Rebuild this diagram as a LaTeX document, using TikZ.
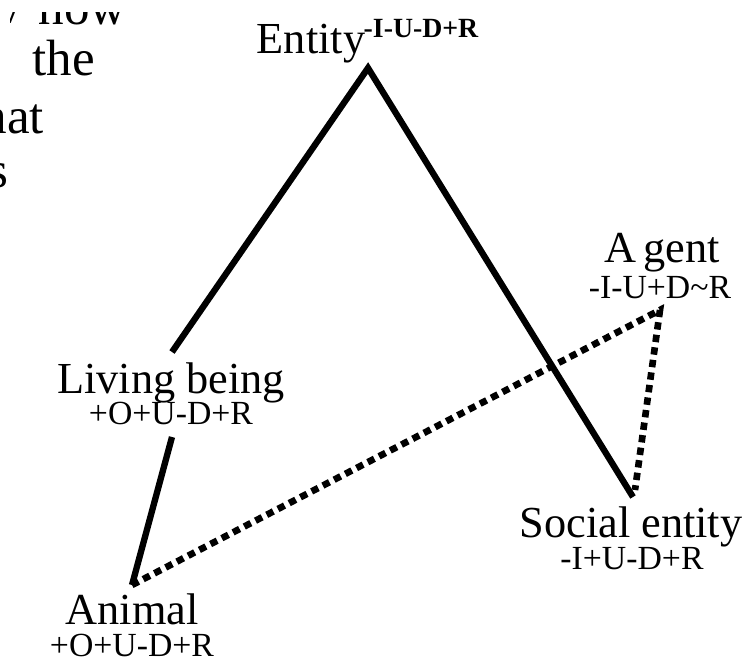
\documentclass[tikz,border=0pt]{standalone}
\usepackage{fontspec}
\setmainfont{Liberation Serif}
\usetikzlibrary{positioning}

\begin{document}
\begin{tikzpicture}[x=0.01cm, y=-0.01cm,
edge/.style={line width=1.8pt},
dots/.style={line width=1.9pt, dash pattern=on 2.1pt off 1.5pt},
mainlbl/.style={font=\fontsize{12.6}{14}\selectfont, inner sep=0pt, anchor=base},
codelbl/.style={font=\fontsize{9.6}{11}\selectfont, inner sep=0pt, anchor=base},
fraglbl/.style={font=\fontsize{14.5}{16}\selectfont, inner sep=0pt, anchor=base west}]
\useasboundingbox (0,0) rectangle (745,663);
\fill[white] (0,0) rectangle (745,663);
\begin{scope}
\clip (10,12) rectangle (18,22);
\node[fraglbl] (w0) at (-4,24) {y};
\end{scope}
\begin{scope}
\clip (0,12) rectangle (300,220);
\node[fraglbl] (w1) at (38,24) {how};
\node[fraglbl] (w2) at (32,75) {the};
\node[fraglbl] (w3) at (-19,133) {hat};
\node[fraglbl] (w4) at (-12,187) {s};
\end{scope}
\coordinate (entity) at (368,68);
\coordinate (living-top) at (172,352);
\coordinate (living-bot) at (172,437);
\coordinate (animal) at (132,585);
\coordinate (agent) at (660,310);
\coordinate (social) at (633,497);
\coordinate (social-dot) at (635,490);
\node[mainlbl] (entity-lbl) at (311,53) {Entity};
\node[codelbl, anchor=base west, font=\fontsize{7.9}{9}\bfseries] (entity-code) at (363,37) {-I-U-D+R};
\node[mainlbl] (agent-lbl) at (662,262) {A\,gent};
\node[codelbl] (agent-code) at (660,298) {-I-U+D\textasciitilde R};
\node[mainlbl] (living-lbl) at (171,393) {Living being};
\node[codelbl] (living-code) at (171,424) {+O+U-D+R};
\node[mainlbl] (social-lbl) at (631,537) {Social entity};
\node[codelbl] (social-code) at (632,569) {-I+U-D+R};
\node[mainlbl] (animal-lbl) at (132,624) {Animal};
\node[codelbl] (animal-code) at (132,656) {+O+U-D+R};
\draw[edge] (living-top) -- (entity) -- (social);
\draw[edge] (living-bot) -- (animal);
\draw[dots] (animal) -- (agent) -- (social-dot);
\end{tikzpicture}
\end{document}
